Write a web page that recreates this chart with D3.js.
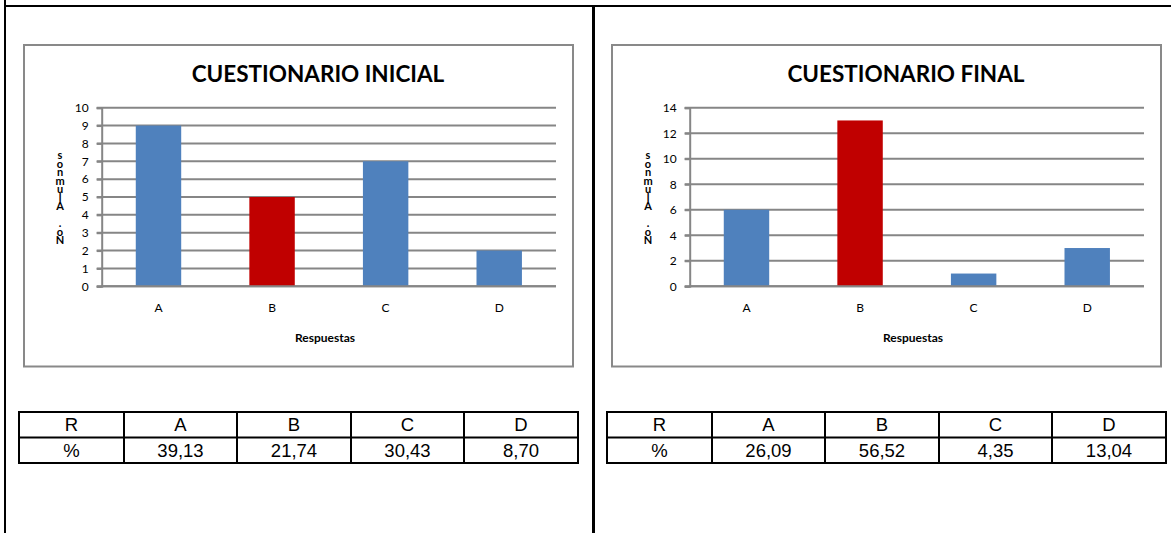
<!DOCTYPE html>
<html>
<head>
<meta charset="utf-8">
<script src="https://cdn.jsdelivr.net/npm/d3@7"></script>
<style>
  html, body { margin: 0; padding: 0; background: #fff; }
  svg { display: block; }
</style>
</head>
<body>
<div id="chart"></div>
<script>
// data
const categories = ['A', 'B', 'C', 'D']
const initialCounts = [9, 5, 7, 2]
const finalCounts = [6, 13, 1, 3]
const initialTicks = [0, 1, 2, 3, 4, 5, 6, 7, 8, 9, 10]
const finalTicks = [0, 2, 4, 6, 8, 10, 12, 14]
const tableHeader = ['R', 'A', 'B', 'C', 'D']
const initialPct = ['%', '39,13', '21,74', '30,43', '8,70']
const finalPct = ['%', '26,09', '56,52', '4,35', '13,04']
const yTitle = 'No. Alumnos'

const W = 1171, H = 533
const BLUE = '#4F81BD', RED = '#C00000', GRID = '#868686'
const FONT = 'Lato, "Open Sans", sans-serif'

const svg = d3.select('#chart').append('svg')
  .attr('width', W).attr('height', H)

// page frame (document table lines)
const frame = svg.append('g').attr('stroke', '#000').attr('stroke-width', 2)
frame.append('line').attr('x1', 4).attr('x2', W).attr('y1', 6).attr('y2', 6)
frame.append('line').attr('x1', 5).attr('x2', 5).attr('y1', 0).attr('y2', H)
frame.append('line').attr('x1', 593.5).attr('x2', 593.5).attr('y1', 6).attr('y2', H).attr('stroke-width', 3)

function drawPanel(dx, title, counts, ticks) {
  const g = svg.append('g').attr('transform', `translate(${dx},0)`)

  // chart box
  g.append('rect')
    .attr('x', 24).attr('y', 45).attr('width', 549).attr('height', 321.5)
    .attr('fill', '#fff').attr('stroke', '#898989').attr('stroke-width', 2)

  const plot = { left: 101.7, right: 556, top: 107.7, bottom: 286.3 }

  const x = d3.scaleBand()
    .domain(categories)
    .range([plot.left, plot.right])
    .paddingInner(0.6)
    .paddingOuter(0.3)

  const y = d3.scaleLinear()
    .domain([0, d3.max(ticks)])
    .range([plot.bottom, plot.top])

  // gridlines
  g.append('g')
    .selectAll('line')
    .data(ticks)
    .join('line')
    .attr('x1', plot.left - 5).attr('x2', plot.right)
    .attr('y1', d => y(d)).attr('y2', d => y(d))
    .attr('stroke', GRID).attr('stroke-width', 2)

  // y axis
  const yAxis = g.append('g')
    .attr('transform', `translate(${plot.left},0)`)
    .call(d3.axisLeft(y).tickValues(ticks).tickSize(5).tickPadding(8).tickFormat(d3.format('d')))
  yAxis.select('.domain').attr('stroke', GRID).attr('stroke-width', 2)
  yAxis.selectAll('.tick line').attr('stroke', GRID).attr('stroke-width', 2)
  yAxis.selectAll('.tick text')
    .attr('fill', '#000').attr('font-family', FONT).attr('font-size', '12px')

  // bars
  g.append('g')
    .selectAll('rect')
    .data(counts)
    .join('rect')
    .attr('x', (d, i) => x(categories[i]))
    .attr('y', d => y(d))
    .attr('width', x.bandwidth())
    .attr('height', d => y(0) - y(d))
    .attr('fill', (d, i) => categories[i] === 'B' ? RED : BLUE)

  // baseline on top of bars
  g.append('line')
    .attr('x1', plot.left).attr('x2', plot.right)
    .attr('y1', y(0)).attr('y2', y(0))
    .attr('stroke', GRID).attr('stroke-width', 2)

  // x labels
  g.append('g')
    .selectAll('text')
    .data(categories)
    .join('text')
    .attr('x', d => x(d) + x.bandwidth() / 2)
    .attr('y', 312)
    .attr('text-anchor', 'middle')
    .attr('font-family', FONT).attr('font-size', '12px')
    .text(d => d)

  // axis title
  g.append('text')
    .attr('x', 325).attr('y', 342)
    .attr('text-anchor', 'middle')
    .attr('font-family', FONT).attr('font-size', '12px').attr('font-weight', 700)
    .text('Respuestas')

  // chart title
  g.append('text')
    .attr('x', 318).attr('y', 82)
    .attr('text-anchor', 'middle')
    .attr('font-family', FONT).attr('font-size', '22.5px').attr('font-weight', 700)
    .text(title)

  // stacked y title: upright characters piled bottom to top
  g.append('text')
    .attr('x', 60).attr('y', 195)
    .attr('text-anchor', 'middle')
    .style('writing-mode', 'vertical-rl')
    .style('text-orientation', 'upright')
    .style('letter-spacing', '-4.5px')
    .attr('font-family', FONT).attr('font-size', '11px').attr('font-weight', 700)
    .text(yTitle.split('').reverse().join(''))

  return g
}

function drawTable(dx, rows) {
  const g = svg.append('g').attr('transform', `translate(${dx},0)`)
  const edges = [19, 124, 237, 351, 464, 578]
  const top = 412, rowH = 25.5

  rows.forEach((row, r) => {
    g.append('g')
      .selectAll('text')
      .data(row)
      .join('text')
      .attr('x', (d, i) => (edges[i] + edges[i + 1]) / 2)
      .attr('y', top + r * rowH + rowH / 2 + 6.5)
      .attr('text-anchor', 'middle')
      .attr('font-family', '"Liberation Sans", Arial, sans-serif')
      .attr('font-size', '18.5px')
      .text(d => d)
  })

  const lines = g.append('g').attr('stroke', '#000').attr('stroke-width', 2)
  d3.range(rows.length + 1).forEach(r => {
    lines.append('line')
      .attr('x1', edges[0] - 1).attr('x2', edges[edges.length - 1] + 1)
      .attr('y1', top + r * rowH).attr('y2', top + r * rowH)
  })
  edges.forEach(e => {
    lines.append('line')
      .attr('x1', e).attr('x2', e)
      .attr('y1', top).attr('y2', top + rows.length * rowH)
  })
}

drawPanel(0, 'CUESTIONARIO INICIAL', initialCounts, initialTicks)
drawPanel(588, 'CUESTIONARIO FINAL', finalCounts, finalTicks)
drawTable(0, [tableHeader, initialPct])
drawTable(588, [tableHeader, finalPct])
</script>
</body>
</html>
